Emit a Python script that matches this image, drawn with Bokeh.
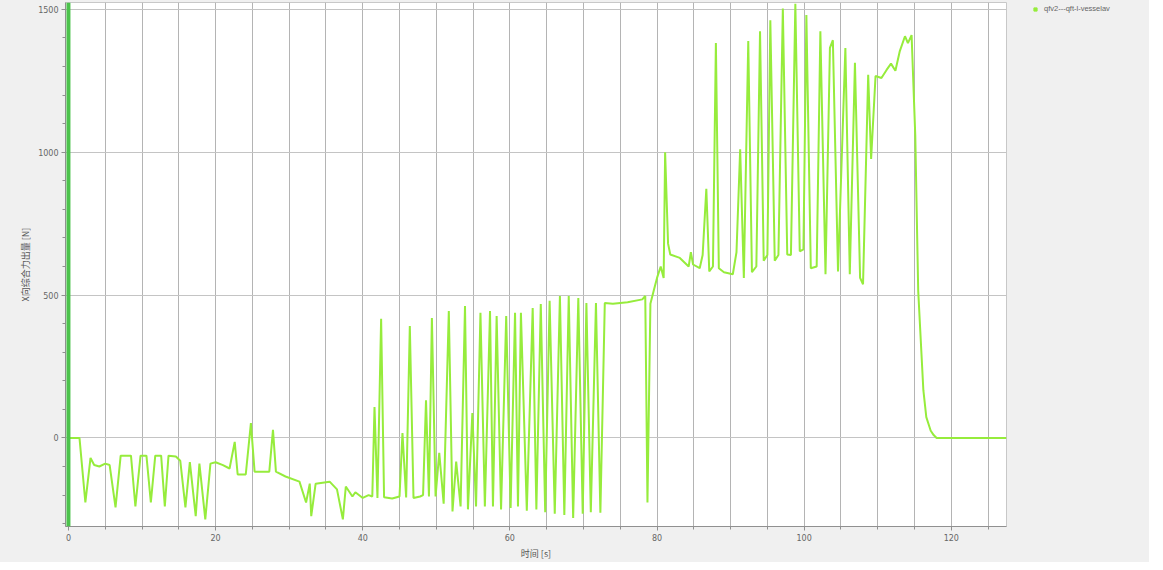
from bokeh.plotting import figure
from bokeh.layouts import row
from bokeh.models import ColumnDataSource, Span, SingleIntervalTicker, Legend, LegendItem, Range1d
from bokeh.embed import file_html
from bokeh.resources import INLINE

# ---- data ----
t = [0, 1.5, 2.3, 3.0, 3.5, 4.2, 5.0, 5.6, 6.4, 7.1, 8.5, 9.1, 9.8, 10.6, 11.2, 11.8, 12.6, 13.1,
     13.6, 14.6, 15.2, 15.9, 16.5, 17.3, 17.8, 18.6, 19.3, 20.0, 21.0, 21.9, 22.6, 23.0, 24.1, 24.8,
     25.3, 27.3, 27.8, 28.2, 29.5, 31.4, 32.3, 32.8, 33.0, 33.6, 35.5, 36.5, 37.3, 37.7, 38.6, 39.0,
     40.0, 40.8, 41.3, 41.6, 42.0, 42.5, 42.9, 44.0, 45.0, 45.4, 45.9, 46.4, 46.9, 47.8, 48.2, 48.6,
     49.0, 49.4, 49.9, 50.4, 51.0, 51.7, 52.2, 52.7, 53.3, 53.9, 54.3, 54.9, 55.4, 56.0, 56.6, 57.3,
     57.7, 58.2, 58.8, 59.5, 60.1, 60.7, 61.1, 61.5, 62.3, 63.1, 63.6, 64.2, 64.8, 65.4, 66.1, 66.8,
     67.4, 68.0, 68.6, 69.3, 69.9, 70.4, 71.0, 71.7, 72.3, 72.9, 74.0, 76.0, 78.0, 78.4, 78.7, 79.1,
     79.6, 80.0, 80.5, 80.9, 81.1, 81.5, 81.8, 83.1, 84.3, 84.6, 84.9, 85.8, 86.2, 86.7, 87.1, 87.6,
     88.0, 88.4, 89.1, 90.3, 90.8, 91.3, 91.8, 92.4, 92.9, 93.5, 94.0, 94.5, 95.0, 95.4, 96.0, 96.5,
     97.1, 97.7, 98.2, 98.8, 99.4, 99.9, 100.3, 100.9, 101.7, 102.2, 102.9, 103.5, 103.9, 104.6,
     105.6, 106.2, 106.9, 107.6, 108.0, 108.7, 109.1, 109.7, 110.5, 111.2, 111.8, 112.4, 113.0,
     113.7, 114.1, 114.6, 115.1, 115.5, 116.2, 116.6, 117.2, 117.6, 118.0, 127.5]
force = [0, 0, -226, -70, -95, -100, -90, -95, -243, -62, -62, -240, -62, -62, -226, -62, -62, -240,
         -62, -65, -80, -243, -85, -274, -90, -285, -90, -85, -95, -107, -14, -128, -128, 52,
         -118, -118, 28, -118, -135, -153, -226, -160, -274, -160, -153, -180, -285, -170, -205, -190,
         -210, -200, -205, 108, -210, 417, -208, -212, -205, 17, -208, 392, -210, -205, -200, 132,
         -205, 420, -205, -52, -230, 444, -257, -83, -240, 462, -250, 87, -240, 438, -240, 444,
         -240, 427, -250, 427, -245, 438, -240, 438, -255, 455, -250, 469, -260, 480, -265, 497,
         -270, 497, -280, 490, -265, 472, -260, 472, -262, 472, 470, 475, 485, 497, -226, 470,
         520, 560, 600, 560, 1000, 680, 642, 630, 600, 650, 607, 594, 640, 872, 583, 600,
         1382, 594, 580, 573, 650, 1010, 560, 1389, 580, 600, 1423, 620, 640, 1462, 620, 640,
         1503, 642, 640, 1520, 653, 660, 1480, 594, 600, 1423, 573, 1365, 1392, 583,
         1365, 573, 1313, 560, 538, 1271, 976, 1267, 1260, 1288, 1310, 1285, 1354,
         1406, 1382, 1410, 1059, 514, 167, 73, 25, 10, 0, 0]

series_name = "qfv2---qft-l-vesselav"
x_label = "时间 [s]"
y_label = "X向综合力出量 [N]"

LINE_COLOR = "#96ec3c"
BG = "#f0f0f0"

source = ColumnDataSource(data=dict(t=t, force=force))

p = figure(width=1007, height=562, output_backend="svg", toolbar_location=None,
           x_range=Range1d(-0.4, 127.5), y_range=Range1d(-310, 1524),
           min_border_left=65, min_border_top=2, min_border_bottom=25, min_border_right=1)

p.background_fill_color = "white"
p.border_fill_color = BG
p.outline_line_color = "#c8c8c8"

r = p.line("t", "force", source=source, line_color=LINE_COLOR, line_width=2)

p.add_layout(Span(location=0, dimension="height", line_color="#4cc24c", line_width=4))

p.xaxis.ticker = SingleIntervalTicker(interval=20, num_minor_ticks=4)
p.yaxis.ticker = SingleIntervalTicker(interval=500, num_minor_ticks=5)
p.xgrid.ticker = SingleIntervalTicker(interval=5)
p.xgrid.grid_line_color = "#b4b4b4"
p.ygrid.grid_line_color = "#c4c4c4"

for ax in (p.xaxis[0], p.yaxis[0]):
    ax.axis_line_color = "#909090"
    ax.major_tick_line_color = "#909090"
    ax.minor_tick_line_color = "#909090"
    ax.major_tick_out = 4
    ax.major_tick_in = 0
    ax.minor_tick_out = 3
    ax.minor_tick_in = 0
    ax.major_label_text_font_size = "8px"
    ax.major_label_text_color = "#666666"
    ax.major_label_text_font = "DejaVu Sans"
    ax.axis_label_text_font_size = "9px"
    ax.axis_label_text_color = "#555555"
    ax.axis_label_text_font = "Noto Sans CJK SC"
    ax.axis_label_text_font_style = "normal"
    ax.major_label_standoff = 3
    ax.axis_label_standoff = 3

p.xaxis.axis_label = x_label
p.yaxis.axis_label = y_label

# legend panel to the right of the plot
pl = figure(width=142, height=562, output_backend="svg", toolbar_location=None,
            x_range=Range1d(0, 1), y_range=Range1d(0, 1),
            min_border_left=22, min_border_top=0, min_border_right=0, min_border_bottom=0)
pl.axis.visible = False
pl.grid.visible = False
pl.outline_line_color = None
pl.background_fill_color = BG
pl.border_fill_color = BG
lr = pl.scatter(x=[-5], y=[-5], marker="square", size=6, fill_color=LINE_COLOR,
                line_color=LINE_COLOR)
legend = Legend(items=[LegendItem(label=series_name, renderers=[lr])],
                location="top_left", label_text_font_size="7.5px", label_text_color="#666666",
                background_fill_alpha=0.0, border_line_color=None,
                glyph_width=8, glyph_height=8, label_height=8, padding=2, margin=2,
                label_standoff=5)
pl.add_layout(legend, "center")

layout = row(p, pl, spacing=0)
layout.styles = {"background-color": BG}

open("out.html", "w").write(file_html(layout, INLINE))
